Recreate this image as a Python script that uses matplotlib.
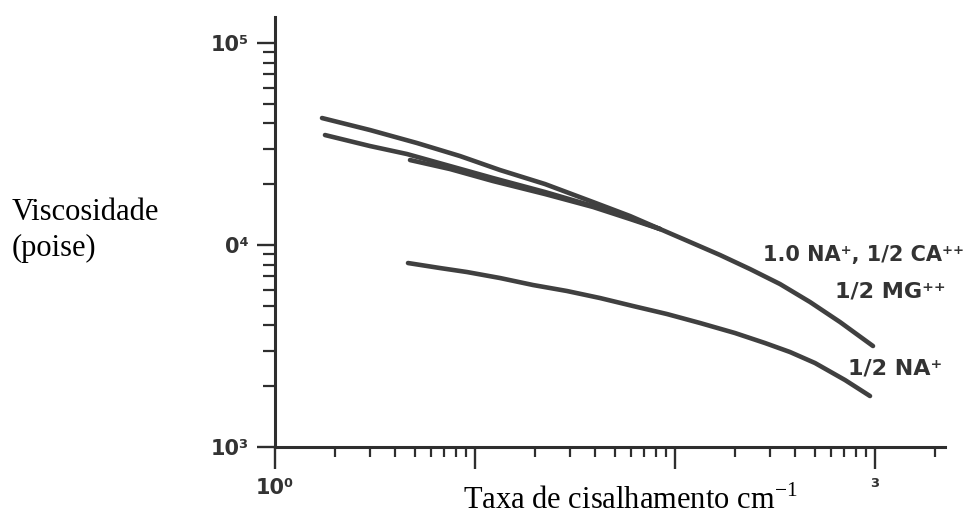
import matplotlib
matplotlib.use("Agg")
import matplotlib.pyplot as plt
from matplotlib.ticker import LogLocator, NullFormatter

# curve values (shear rate, viscosity)
rate_top = [1.718, 2.985, 5.129, 8.414, 13.34, 22.39, 38.9, 59.57, 84.14,
            118.9, 167.9, 237.1, 335.0, 473.2, 668.3, 977.2]
visc_top = [42540, 37100, 31990, 27580, 23510, 20040, 16330, 13920, 12000,
            10350, 8925, 7605, 6410, 5222, 4157, 3162]

rate_mid = [1.778, 2.985, 4.571, 7.499, 12.30, 22.39, 38.9, 59.57, 84.14]
visc_mid = [35040, 30910, 28220, 24610, 21460, 18300, 15600, 13610, 12000]

rate_low = [4.732, 7.499, 12.30, 22.39, 38.9, 59.57, 84.14]
visc_low = [26350, 23780, 20740, 17880, 15430, 13450, 12000]

rate_na = [4.624, 6.683, 9.12, 13.34, 19.5, 28.84, 42.17, 61.66, 91.2,
           133.4, 199.5, 281.8, 375.8, 501.2, 707.9, 944.1]
visc_na = [8145, 7693, 7350, 6865, 6339, 5920, 5465, 4989, 4553,
           4111, 3667, 3272, 2953, 2605, 2146, 1788]

y_ticks = [1e3, 1e4, 1e5]
y_ticklabels = ["10³", "0⁴", "10⁵"]
x_ticks = [1e0, 1e1, 1e2, 1e3]
x_ticklabels = ["10⁰", "", "", "³"]

label_group = "1.0 NA⁺, 1/2 CA⁺⁺"
label_mg = "1/2 MG⁺⁺"
label_na = "1/2 NA⁺"

INK = "#404040"
AXC = "#2e2e2e"

fig = plt.figure(figsize=(9.69, 5.15), dpi=100)
ax = fig.add_axes([275/969, (515-447)/515, (945-275)/969, (447-17)/515])

for xs, ys in [(rate_top, visc_top), (rate_mid, visc_mid), (rate_low, visc_low), (rate_na, visc_na)]:
    ax.plot(xs, ys, color=INK, lw=3.3, solid_capstyle="round", solid_joinstyle="round")

ax.set_xscale("log")
ax.set_yscale("log")
ax.set_xlim(1, 10**3.35)
ax.set_ylim(1e3, 10**5.129)

for s in ["top", "right"]:
    ax.spines[s].set_visible(False)
for s in ["left", "bottom"]:
    ax.spines[s].set_linewidth(2.2)
    ax.spines[s].set_color(AXC)

ax.set_yticks(y_ticks)
ax.set_yticklabels(y_ticklabels)
ax.set_xticks(x_ticks)
ax.set_xticklabels(x_ticklabels)
ax.yaxis.set_minor_locator(LogLocator(base=10, subs=range(2, 10)))
ax.xaxis.set_minor_locator(LogLocator(base=10, subs=range(2, 10)))
ax.yaxis.set_minor_formatter(NullFormatter())
ax.xaxis.set_minor_formatter(NullFormatter())

ax.tick_params(axis="y", which="major", direction="out", length=13, width=1.7, color=AXC, pad=6)
ax.tick_params(axis="y", which="minor", direction="out", length=9, width=1.6, color=AXC)
ax.tick_params(axis="x", which="major", direction="out", length=16, width=1.7, color=AXC, pad=6)
ax.tick_params(axis="x", which="minor", direction="out", length=7, width=1.6, color=AXC)
for lab in ax.get_xticklabels() + ax.get_yticklabels():
    lab.set_fontfamily("DejaVu Sans")
    lab.set_fontweight("bold")
    lab.set_fontsize(15)
    lab.set_color("#333333")

tkw = dict(fontfamily="DejaVu Sans", fontweight="bold", color="#333333",
           va="center", clip_on=False)
ax.text(2786, 8920, label_group, ha="right", fontsize=15, **tkw)
ax.text(631, 5920, label_mg, ha="left", fontsize=16, **tkw)
ax.text(733, 2460, label_na, ha="left", fontsize=16, **tkw)

serif = dict(fontfamily="Liberation Serif", fontsize=22, color="black")
fig.text(12/969, 1 - 212/515, "Viscosidade", ha="left", va="center", **serif)
fig.text(12/969, 1 - 248/515, "(poise)", ha="left", va="center", **serif)
fig.text(630/969, 1 - 501/515, r"Taxa de cisalhamento cm$^{\mathregular{-1}}$",
         ha="center", va="center", **serif)

fig.savefig("out.png", dpi=100)
